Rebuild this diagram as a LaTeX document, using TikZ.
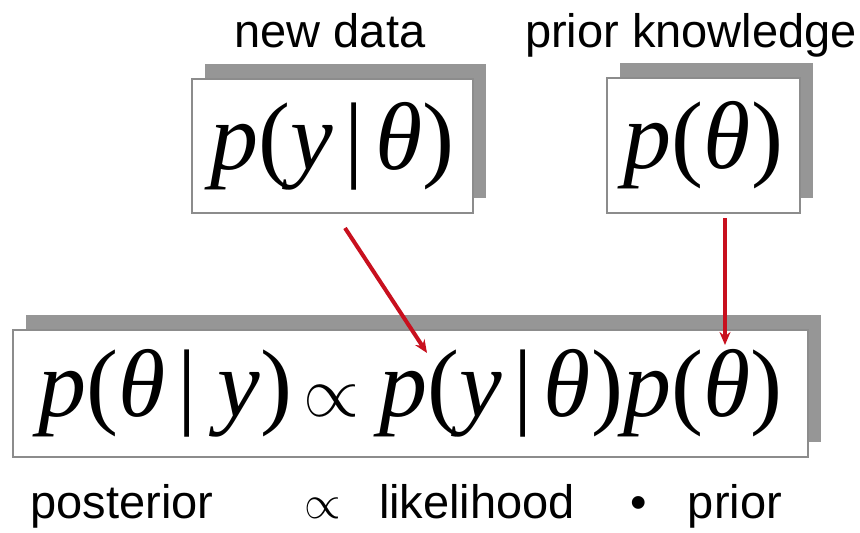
\RequirePackage{fix-cm}
\documentclass[tikz,border=0pt]{standalone}
\usepackage{fontspec}
\setmainfont{Liberation Sans}
\newfontfamily\tnr{Liberation Serif}
\usetikzlibrary{shadows,arrows.meta}
\definecolor{shadowc}{RGB}{150,150,150}
\definecolor{edgec}{RGB}{140,140,140}
\definecolor{arrowc}{RGB}{200,16,30}
\newcommand\mi[1]{{\itshape #1}}
\newcommand\smallprop{{\fontsize{72}{72}\selectfont$\propto$}}
\tikzset{
  fbox/.style={draw=edgec, line width=2.5pt, fill=white, inner sep=0pt,
    general shadow={fill=shadowc, shadow xshift=13pt, shadow yshift=15pt}},
  ftext/.style={font=\tnr\fontsize{96}{104}\selectfont},
  lab/.style={font=\fontsize{47}{52}\selectfont, anchor=base, inner sep=0pt},
  redarrow/.style={draw=arrowc, line width=4pt, -{Stealth[length=13pt,width=11pt]}}
}
\begin{document}
\begin{tikzpicture}[x=1pt,y=-1pt]
\useasboundingbox (0,0) rectangle (860,533);
% boxes
\node[fbox, ftext, minimum width=281pt, minimum height=134pt] (b1) at (332.5,146)
  {\mi{p}(\mi{y}\kern0.12em|\kern0.12em\mi{θ})};
\node[fbox, ftext, minimum width=193pt, minimum height=135pt] (b2) at (703.5,145.5)
  {\mi{p}(\mi{θ})};
\node[fbox, ftext, minimum width=795pt, minimum height=127pt] (b3) at (410.5,393.5)
  {\mi{p}(\mi{θ}\kern0.12em|\kern0.22em\mi{y})\kern0.12em\smallprop\kern0.2em\mi{p}(\mi{y}\kern0.12em|\kern0.12em\mi{θ})\mi{p}(\mi{θ})};
% top labels
\node[lab] (l1) at (330,47) {new data};
\node[lab] (l2) at (691,47) {prior knowledge};
% bottom labels
\node[lab] (l3) at (122,518) {posterior};
\node[lab] (l4) at (323,518) {$\propto$};
\node[lab] (l5) at (477,518) {likelihood};
\node[lab] (l6) at (639,518) {•};
\node[lab] (l7) at (735,518) {prior};
% arrows
\coordinate (a1s) at (345,228);
\coordinate (a1e) at (427,353);
\coordinate (a2s) at (725,218);
\coordinate (a2e) at (725,345);
\draw[redarrow] (a1s) -- (a1e);
\draw[redarrow] (a2s) -- (a2e);
\end{tikzpicture}
\end{document}
